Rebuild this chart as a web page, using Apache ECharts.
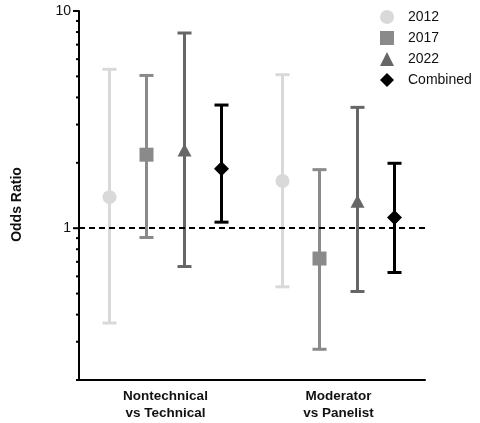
<!DOCTYPE html>
<html>
<head>
<meta charset="utf-8">
<script src="https://cdn.jsdelivr.net/npm/echarts@6/dist/echarts.min.js"></script>
<style>
  html, body { margin: 0; padding: 0; background: #fff; }
  #main { width: 480px; height: 423px; }
</style>
</head>
<body>
<div id="main"></div>
<script>
// categories on the x axis
const categories = ["Nontechnical\nvs Technical", "Moderator\nvs Panelist"];
const seriesNames = ["2012", "2017", "2022", "Combined"];

// odds ratio point estimates and confidence limits, one value per category
const odds2012 = [1.39, 1.65];
const lower2012 = [0.366, 0.537];
const upper2012 = [5.39, 5.09];

const odds2017 = [2.18, 0.725];
const lower2017 = [0.906, 0.277];
const upper2017 = [5.05, 1.86];

const odds2022 = [2.29, 1.33];
const lower2022 = [0.666, 0.511];
const upper2022 = [7.92, 3.6];

const oddsCombined = [1.88, 1.12];
const lowerCombined = [1.066, 0.625];
const upperCombined = [3.69, 1.99];

// y axis ticks (log scale)
const majorTicks = [1, 10];
const minorTicks = [0.2, 0.3, 0.4, 0.5, 0.6, 0.7, 0.8, 0.9, 2, 3, 4, 5, 6, 7, 8, 9];
const referenceLine = 1;

const FONT = "Liberation Sans, Arial, sans-serif";

const groups = [
  { name: seriesNames[0], odds: odds2012, lower: lower2012, upper: upper2012, color: "#d9d9d9", symbol: "circle", size: 14, offset: -56 },
  { name: seriesNames[1], odds: odds2017, lower: lower2017, upper: upper2017, color: "#8a8a8a", symbol: "rect", size: 14, offset: -19 },
  { name: seriesNames[2], odds: odds2022, lower: lower2022, upper: upper2022, color: "#666666", symbol: "triangle", size: [14, 13], offset: 19 },
  { name: seriesNames[3], odds: oddsCombined, lower: lowerCombined, upper: upperCombined, color: "#000000", symbol: "diamond", size: 15, offset: 56 },
];

const errorBarSeries = (g) => ({
  name: g.name,
  type: "custom",
  clip: false,
  z: 2,
  encode: { x: 0, y: [1, 2] },
  data: categories.map((_, i) => [i, g.lower[i], g.upper[i]]),
  renderItem: (params, api) => {
    const lo = api.coord([api.value(0), api.value(1)]);
    const hi = api.coord([api.value(0), api.value(2)]);
    const x = lo[0] + g.offset;
    const style = { stroke: g.color, lineWidth: 3 };
    return {
      type: "group",
      children: [
        { type: "line", shape: { x1: x, y1: lo[1], x2: x, y2: hi[1] }, style },
        { type: "line", shape: { x1: x - 7, y1: lo[1], x2: x + 7, y2: lo[1] }, style },
        { type: "line", shape: { x1: x - 7, y1: hi[1], x2: x + 7, y2: hi[1] }, style },
      ],
    };
  },
});

const markerSeries = (g) => ({
  name: g.name,
  type: "scatter",
  z: 3,
  symbol: g.symbol,
  symbolSize: g.size,
  symbolOffset: [g.offset, 0],
  itemStyle: { color: g.color, opacity: 1 },
  data: categories.map((_, i) => [i, g.odds[i]]),
});

// y axis ticks drawn through the axis scale (major longer than minor)
const tickSeries = {
  type: "custom",
  clip: false,
  silent: true,
  z: 4,
  data: majorTicks.map((v) => [0, v, 6]).concat(minorTicks.map((v) => [0, v, 3])),
  renderItem: (params, api) => {
    const c = api.coord([0, api.value(1)]);
    const left = c[0] - api.size([1, 0])[0] / 2;
    return {
      type: "line",
      shape: { x1: left - api.value(2), y1: c[1], x2: left, y2: c[1] },
      style: { stroke: "#000", lineWidth: 2 },
    };
  },
};

const chart = echarts.init(document.getElementById("main"));
chart.setOption({
  animation: false,
  backgroundColor: "#fff",
  grid: { left: 79, right: 55, top: 11, bottom: 43 },
  legend: {
    orient: "vertical",
    left: 375,
    top: 5,
    itemWidth: 14,
    itemHeight: 14,
    itemGap: 7,
    textStyle: { fontFamily: FONT, fontSize: 14, color: "#111", padding: [0, 0, 0, 9] },
    data: groups.map((g) => ({ name: g.name, icon: g.symbol, itemStyle: { color: g.color } })),
  },
  xAxis: {
    type: "category",
    data: categories,
    axisLine: { lineStyle: { color: "#000", width: 2 } },
    axisTick: { alignWithLabel: true, length: 5, lineStyle: { color: "#000", width: 2 } },
    axisLabel: { fontFamily: FONT, fontSize: 13.5, fontWeight: "bold", color: "#111", lineHeight: 17, margin: 8 },
    splitLine: { show: false },
  },
  yAxis: {
    type: "log",
    logBase: 10,
    min: 0.2,
    max: 10,
    name: "Odds Ratio",
    nameLocation: "middle",
    nameGap: 55,
    nameTextStyle: { fontFamily: FONT, fontSize: 14, fontWeight: "bold", color: "#111", padding: [0, 18, 0, 0] },
    axisLine: { show: true, lineStyle: { color: "#000", width: 2 } },
    axisTick: { show: false },
    minorTick: { show: false },
    splitLine: { show: false },
    axisLabel: {
      fontFamily: FONT,
      fontSize: 14,
      color: "#111",
      margin: 8,
      formatter: (v) => (majorTicks.some((m) => Math.abs(m - v) < 1e-6) ? String(Math.round(v)) : ""),
    },
  },
  series: [
    ...groups.map(errorBarSeries),
    ...groups.map(markerSeries),
    tickSeries,
    {
      type: "line",
      data: [],
      silent: true,
      markLine: {
        symbol: "none",
        silent: true,
        label: { show: false },
        lineStyle: { color: "#000", type: [6, 4], width: 2 },
        data: [{ yAxis: referenceLine }],
      },
    },
  ],
});
</script>
</body>
</html>
